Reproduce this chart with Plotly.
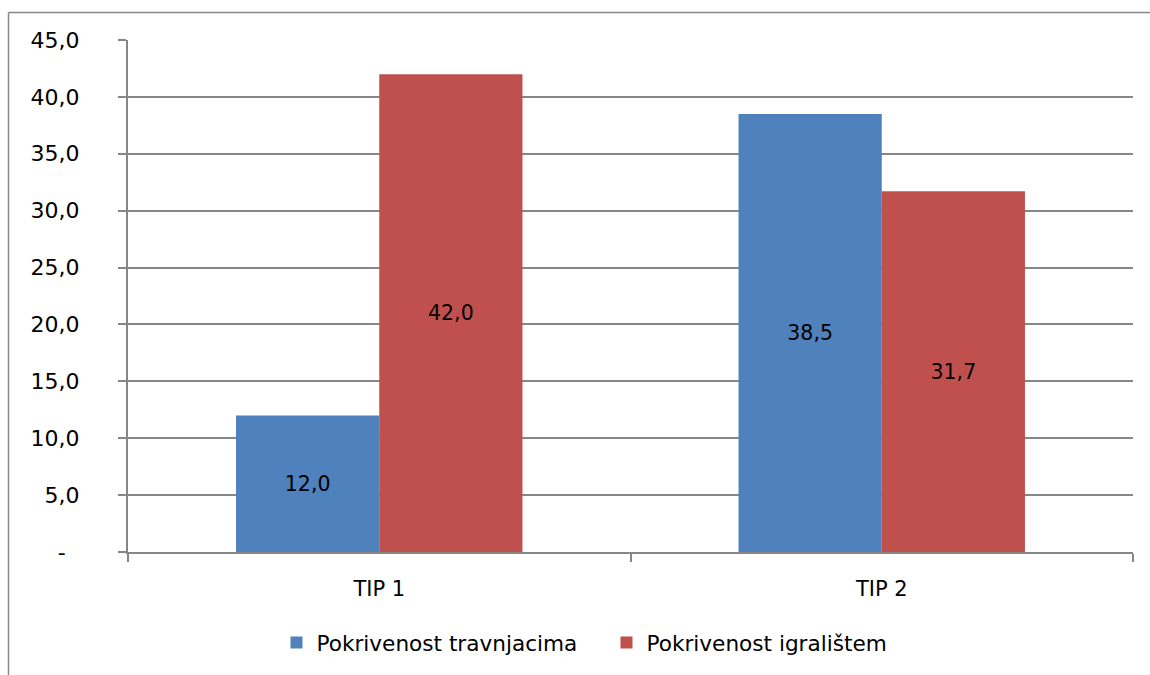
import plotly.graph_objects as go

categories = ["TIP 1", "TIP 2"]
travnjaci = [12.0, 38.5]
igraliste = [42.0, 31.7]
series_names = ["Pokrivenost travnjacima", "Pokrivenost igralištem"]
y_tickvals = [0, 5, 10, 15, 20, 25, 30, 35, 40, 45]
y_ticktext = ["-\u00a0\u00a0", "5,0", "10,0", "15,0", "20,0", "25,0", "30,0", "35,0", "40,0", "45,0"]

W, H = 1150, 675
ML, MR, MT, MB = 128, 17, 40, 123
FONT = "DejaVu Sans"
GRAY = "#878787"

def fmt(v):
    return f"{v:.1f}".replace(".", ",")

fig = go.Figure()
for name, vals, col in [(series_names[0], travnjaci, "#4F81BD"), (series_names[1], igraliste, "#C0504D")]:
    fig.add_trace(go.Bar(
        x=categories, y=vals, name=name, marker=dict(color=col, line=dict(width=0)),
        text=[fmt(v) for v in vals], textposition="inside", insidetextanchor="middle",
        textfont=dict(color="black", size=20.5, family=FONT), textangle=0,
    ))

pw = W - ML - MR
ph = H - MT - MB
# chart-area border: only its top and left edges fall inside the picture
bx = (8.5 - ML) / pw
by = 1 + (MT - 12.5) / ph
fig.add_shape(type="line", xref="paper", yref="paper", x0=bx, x1=(W + 20 - ML) / pw, y0=by, y1=by,
              line=dict(color=GRAY, width=1.5), layer="below")
fig.add_shape(type="line", xref="paper", yref="paper", x0=bx, x1=bx, y0=by, y1=-(MB + 20) / ph,
              line=dict(color=GRAY, width=1.5), layer="below")

fig.update_layout(
    width=W, height=H, margin=dict(l=ML, r=MR, t=MT, b=MB, autoexpand=False),
    paper_bgcolor="white", plot_bgcolor="white",
    barmode="group", bargap=0.43, bargroupgap=0,
    font=dict(family=FONT, size=21, color="black"),
    showlegend=True,
    legend=dict(orientation="h", x=0.5 - 24 / pw, xanchor="center", y=-(643 - (MT + ph)) / ph,
                yanchor="middle", font=dict(size=21.6, family=FONT), itemwidth=30,
                traceorder="normal", entrywidth=285, entrywidthmode="pixels"),
    xaxis=dict(showline=True, linecolor=GRAY, linewidth=2, ticks="outside", ticklen=8, tickcolor=GRAY,
               tickwidth=2, tickson="boundaries", showgrid=False, ticklabelstandoff=17,
               tickfont=dict(size=21, family=FONT)),
    yaxis=dict(range=[0, 45], tickvals=y_tickvals, ticktext=y_ticktext, showline=True, linecolor=GRAY,
               linewidth=2, ticks="outside", ticklen=8, tickcolor=GRAY, tickwidth=2,
               showgrid=True, gridcolor=GRAY, gridwidth=1.5, zeroline=False, ticklabelstandoff=34,
               tickfont=dict(size=22, family=FONT)),
)
fig.write_html("out.html", config={"displayModeBar": False},
               post_script="document.body.style.margin='0';document.body.style.overflow='hidden';")
